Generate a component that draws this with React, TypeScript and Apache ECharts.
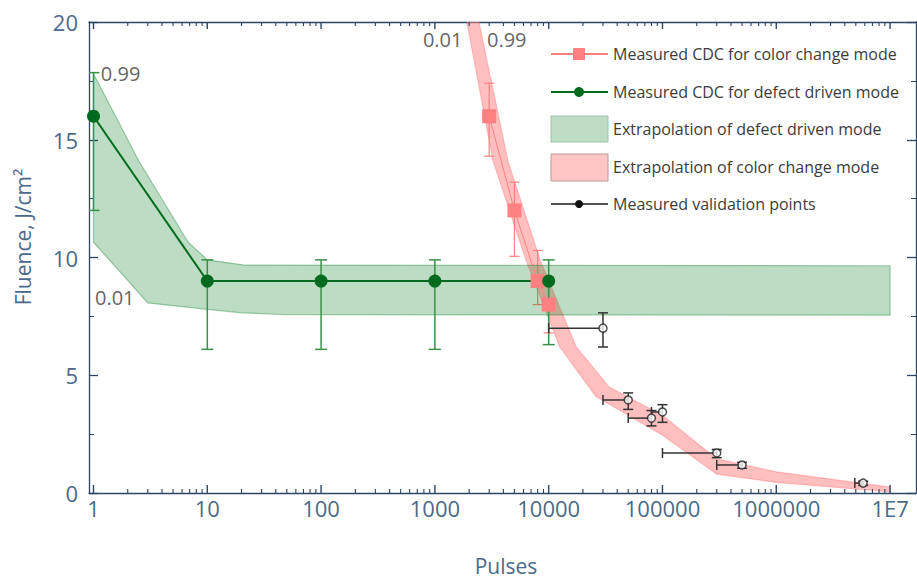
import React, { useEffect, useRef } from "react";
import * as echarts from "echarts";

const FONT = '"Open Sans", "Noto Sans", sans-serif';

// ---- axis ticks ----
const xTickLabels = ["1", "10", "100", "1000", "10000", "100000", "1000000", "1E7"];
const xMajorExp = [0, 1, 2, 3, 4, 5, 6, 7];
const xMinorMultipliers = [2, 3, 4, 5, 6, 7, 8, 9];
const xMinorDecades = [0, 1, 2, 3, 4, 5, 6];
const X_MIN_PULSES = 0.913;
const X_MAX_PULSES = 1.69e7;
const Y_MIN = 0;
const Y_MAX = 20;

// ---- defect driven mode (green) ----
const defectPulses = [1, 10, 100, 1000, 10000];
const defectFluence = [16, 9, 9, 9, 9];
const defectErrLow = [12.0, 6.1, 6.1, 6.1, 6.3];
const defectErrHigh = [17.85, 9.9, 9.9, 9.9, 9.9];

const greenUpperPulses = [1, 2.5, 6.8, 10, 21, 1e7];
const greenUpperFluence = [17.8, 14.1, 10.65, 9.9, 9.68, 9.65];
const greenLowerPulses = [1, 3, 10, 20, 50, 1e7];
const greenLowerFluence = [10.65, 8.07, 7.8, 7.65, 7.57, 7.55];

// ---- color change mode (pink) ----
const colorPulses = [3000, 5000, 8000, 10000];
const colorFluence = [16, 12, 9, 8];
const colorErrLow = [14.3, 10.05, 8.0, 6.8];
const colorErrHigh = [17.4, 13.2, 10.3, 9.2];

const pinkUpperPulses = [2440, 4390, 8400, 17500, 34000, 100000, 300000, 1e6, 1e7];
const pinkUpperFluence = [20, 14.1, 9.9, 6.2, 4.5, 3.3, 1.45, 0.9, 0.25];
const pinkLowerPulses = [1910, 3240, 6300, 12500, 26000, 50000, 100000, 300000, 1e6, 1e7];
const pinkLowerFluence = [20, 14.1, 9.9, 6.2, 4.1, 3.3, 2.45, 0.8, 0.45, 0.05];

// ---- validation points ----
const valPulses = [30000, 50000, 80000, 100000, 300000, 500000, 5800000];
const valPulsesFrom = [10000, 30000, 50000, 80000, 100000, 300000, 4900000];
const valFluence = [7.0, 3.95, 3.18, 3.44, 1.7, 1.19, 0.42];
const valErrLow = [6.2, 3.55, 2.85, 3.0, 1.5, 1.05, 0.32];
const valErrHigh = [7.65, 4.25, 3.5, 3.75, 1.85, 1.3, 0.5];

// ---- quantile annotations ----
const annoText = ["0.99", "0.01", "0.01", "0.99"];
const annoPulses = [1.16, 1.03, 785, 2870];
const annoFluence = [17.83, 8.32, 19.24, 19.24];

const legendNames = [
  "Measured CDC for color change mode",
  "Measured CDC for defect driven mode",
  "Extrapolation of defect driven mode",
  "Extrapolation of color change mode",
  "Measured validation points",
];

const AXIS_COLOR = "#2b4664";
const LABEL_COLOR = "#4a6a8c";
const PINK = "#ff8080";
const GREEN = "#006b1f";
const GREEN_ERR = "#3a9148";

const lg = (v: number) => Math.log10(v);

function bandSeries(up: number[], upF: number[], lo: number[], loF: number[], fill: string, stroke: string) {
  return {
    type: "custom",
    clip: true,
    silent: true,
    data: [[0, 0]],
    renderItem: (_p: any, api: any) => {
      const pts: number[][] = [];
      for (let i = 0; i < up.length; i++) pts.push(api.coord([lg(up[i]), upF[i]]));
      for (let i = lo.length - 1; i >= 0; i--) pts.push(api.coord([lg(lo[i]), loF[i]]));
      return { type: "polygon", shape: { points: pts }, style: { fill, stroke, lineWidth: 1.2 } };
    },
  };
}

function vErrSeries(px: number[], low: number[], high: number[], color: string, width: number, cap: number) {
  return {
    type: "custom",
    silent: true,
    clip: true,
    data: px.map((p, i) => [lg(p), low[i], high[i]]),
    encode: { x: 0, y: [1, 2] },
    renderItem: (_p: any, api: any) => {
      const t = api.coord([api.value(0), api.value(2)]);
      const b = api.coord([api.value(0), api.value(1)]);
      const style = { stroke: color, lineWidth: width };
      return {
        type: "group",
        children: [
          { type: "line", shape: { x1: t[0], y1: t[1], x2: b[0], y2: b[1] }, style },
          { type: "line", shape: { x1: t[0] - cap, y1: t[1], x2: t[0] + cap, y2: t[1] }, style },
          { type: "line", shape: { x1: b[0] - cap, y1: b[1], x2: b[0] + cap, y2: b[1] }, style },
        ],
      };
    },
  };
}

export default function App() {
  const ref = useRef<HTMLDivElement>(null);
  useEffect(() => {
    if (!ref.current) return;
    const chart = echarts.init(ref.current, undefined, { renderer: "svg" });
    const X_MIN = lg(X_MIN_PULSES);
    const X_MAX = lg(X_MAX_PULSES);

    // every x tick: [exponent, bottom length, top length]
    const xTicks: number[][] = [];
    xMajorExp.forEach((e) => xTicks.push([e, 8, 7]));
    xMinorDecades.forEach((d) => xMinorMultipliers.forEach((m) => xTicks.push([lg(m) + d, 4, 4])));

    const xAx = (position: string, labels: boolean) => ({
      type: "value",
      min: X_MIN,
      max: X_MAX,
      position,
      splitLine: { show: false },
      axisLine: { show: true, onZero: false, lineStyle: { color: AXIS_COLOR, width: 1.3 } },
      axisTick: { show: false },
      axisLabel: {
        show: labels,
        customValues: xMajorExp,
        margin: 4,
        color: LABEL_COLOR,
        fontSize: 22,
        fontFamily: FONT,
        formatter: (v: number) => xTickLabels[Math.round(v)] ?? "",
      },
    });
    const yAx = (position: string, labels: boolean) => ({
      type: "value",
      position,
      min: Y_MIN,
      max: Y_MAX,
      interval: 5,
      splitLine: { show: false },
      axisLine: { show: true, onZero: false, lineStyle: { color: AXIS_COLOR, width: 1.3 } },
      axisTick: { show: true, inside: true, length: 9, lineStyle: { color: AXIS_COLOR, width: 1.3 } },
      minorTick: { show: true, splitNumber: 2, length: 5, lineStyle: { color: AXIS_COLOR, width: 1 } },
      axisLabel: { show: labels, margin: 11, color: LABEL_COLOR, fontSize: 22, fontFamily: FONT },
    });

    const legendY = [54, 92, 129, 167, 204];
    const LX = 551;
    const LW = 57;
    const TX = 613;
    const legendText = legendNames.map((t, i) => ({
      type: "text",
      x: TX,
      y: legendY[i],
      style: { text: t, fill: "#3c3c3c", font: `16px ${FONT}`, verticalAlign: "middle" },
    }));

    chart.setOption({
      animation: false,
      textStyle: { fontFamily: FONT },
      grid: { left: 89, right: 1, top: 22, bottom: 89, containLabel: false },
      xAxis: [xAx("bottom", true), xAx("top", false)],
      yAxis: [yAx("left", true), yAx("right", false)],
      series: [
        bandSeries(pinkUpperPulses, pinkUpperFluence, pinkLowerPulses, pinkLowerFluence, "rgba(255,128,128,0.5)", "rgba(255,110,110,0.35)"),
        vErrSeries(colorPulses, colorErrLow, colorErrHigh, PINK, 1.2, 5),
        {
          type: "line",
          name: legendNames[0],
          data: colorPulses.map((p, i) => [lg(p), colorFluence[i]]),
          symbol: "rect",
          symbolSize: 14,
          lineStyle: { color: PINK, width: 1 },
          itemStyle: { color: PINK },
        },
        bandSeries(greenUpperPulses, greenUpperFluence, greenLowerPulses, greenLowerFluence, "rgba(0,120,28,0.26)", "rgba(0,120,28,0.35)"),
        vErrSeries(defectPulses, defectErrLow, defectErrHigh, GREEN_ERR, 1.5, 6),
        {
          type: "line",
          name: legendNames[1],
          data: defectPulses.map((p, i) => [lg(p), defectFluence[i]]),
          symbol: "circle",
          symbolSize: 13,
          lineStyle: { color: GREEN, width: 2 },
          itemStyle: { color: GREEN },
        },
        {
          type: "custom",
          silent: true,
          data: valPulses.map((p, i) => [lg(p), valErrLow[i], valErrHigh[i], lg(valPulsesFrom[i]), valFluence[i]]),
          encode: { x: [0, 3], y: [1, 2, 4] },
          renderItem: (_p: any, api: any) => {
            const t = api.coord([api.value(0), api.value(2)]);
            const b = api.coord([api.value(0), api.value(1)]);
            const c = api.coord([api.value(0), api.value(4)]);
            const l = api.coord([api.value(3), api.value(4)]);
            const style = { stroke: "#333333", lineWidth: 1.5 };
            const cap = 5;
            return {
              type: "group",
              children: [
                { type: "line", shape: { x1: t[0], y1: t[1], x2: b[0], y2: b[1] }, style },
                { type: "line", shape: { x1: t[0] - cap, y1: t[1], x2: t[0] + cap, y2: t[1] }, style },
                { type: "line", shape: { x1: b[0] - cap, y1: b[1], x2: b[0] + cap, y2: b[1] }, style },
                { type: "line", shape: { x1: l[0], y1: l[1], x2: c[0], y2: c[1] }, style },
                { type: "line", shape: { x1: l[0], y1: l[1] - cap, x2: l[0], y2: l[1] + cap }, style },
              ],
            };
          },
        },
        {
          type: "scatter",
          name: legendNames[4],
          data: valPulses.map((p, i) => [lg(p), valFluence[i]]),
          symbol: "circle",
          symbolSize: 8,
          itemStyle: { color: "#ffffff", borderColor: "#222222", borderWidth: 1.5 },
        },
        {
          type: "scatter",
          silent: true,
          data: annoPulses.map((p, i) => ({ value: [lg(p), annoFluence[i]], label: { formatter: annoText[i] } })),
          symbolSize: 0,
          label: {
            show: true,
            position: [0, 0],
            align: "left",
            verticalAlign: "middle",
            color: "#3a3a3a",
            fontSize: 20,
            fontFamily: FONT,
          },
        },
        // x-axis ticks: one item per tick; a polyline going bottom tick -> (jump) is avoided by
        // drawing two separate rects (thin filled bars) which render robustly
        {
          type: "custom",
          silent: true,
          clip: false,
          z: 20,
          data: xTicks,
          encode: { x: 0 },
          renderItem: (params: any, api: any) => {
            const cs = params.coordSys;
            const px = api.coord([api.value(0), 10])[0];
            const lenB = api.value(1);
            const lenT = api.value(2);
            const w = lenB > 5 ? 1.4 : 1.1;
            return {
              type: "group",
              children: [
                { type: "rect", shape: { x: px - w / 2, y: cs.y + cs.height - lenB, width: w, height: lenB }, style: { fill: AXIS_COLOR } },
                { type: "rect", shape: { x: px - w / 2, y: cs.y, width: w, height: lenT }, style: { fill: AXIS_COLOR } },
              ],
            };
          },
        },
      ],
      graphic: [
        { type: "text", x: 506, y: 566, style: { text: "Pulses", fill: LABEL_COLOR, font: `21px ${FONT}`, align: "center", verticalAlign: "middle" } },
        { type: "text", x: 23, y: 237, rotation: Math.PI / 2, style: { text: "Fluence, J/cm²", fill: LABEL_COLOR, font: `21px ${FONT}`, align: "center", verticalAlign: "middle" } },
        // legend icons
        { type: "line", shape: { x1: LX, y1: legendY[0], x2: LX + LW, y2: legendY[0] }, style: { stroke: PINK, lineWidth: 2 } },
        { type: "rect", shape: { x: LX + 22, y: legendY[0] - 6, width: 12, height: 12 }, style: { fill: PINK } },
        { type: "line", shape: { x1: LX, y1: legendY[1], x2: LX + LW, y2: legendY[1] }, style: { stroke: GREEN, lineWidth: 2 } },
        { type: "circle", shape: { cx: LX + 28, cy: legendY[1], r: 5 }, style: { fill: GREEN } },
        { type: "rect", shape: { x: LX, y: legendY[2] - 13, width: LW, height: 26 }, style: { fill: "#bfdcc5", stroke: "#a2c3a9", lineWidth: 1 } },
        { type: "rect", shape: { x: LX, y: legendY[3] - 13, width: LW, height: 27 }, style: { fill: "#ffc6c6", stroke: "#b89a9a", lineWidth: 1 } },
        { type: "line", shape: { x1: LX, y1: legendY[4], x2: LX + LW, y2: legendY[4] }, style: { stroke: "#1a1a1a", lineWidth: 1.5 } },
        { type: "circle", shape: { cx: LX + 28, cy: legendY[4], r: 4 }, style: { fill: "#111111" } },
        ...legendText,
      ],
    });
    return () => chart.dispose();
  }, []);
  return <div ref={ref} style={{ width: 917, height: 582, position: "absolute", left: 0, top: 0 }} />;
}
